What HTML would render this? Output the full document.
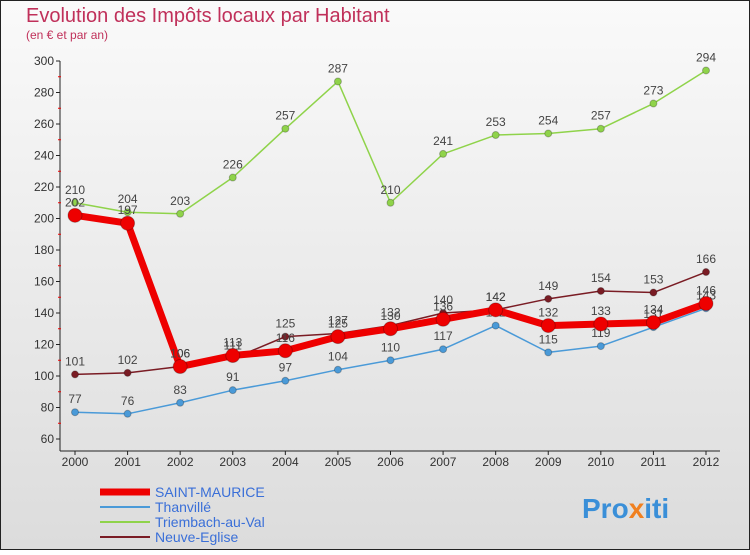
<!DOCTYPE html>
<html><head><meta charset="utf-8"><style>
body{margin:0;width:750px;height:550px;overflow:hidden;font-family:"Liberation Sans",sans-serif}
</style></head><body>
<svg id="c" width="750" height="550">
<defs><linearGradient id="bg" x1="0" y1="0" x2="0" y2="1"><stop offset="0" stop-color="#fafafa"/><stop offset="1" stop-color="#dcdcdc"/></linearGradient></defs>
<rect x="0.5" y="0.5" width="749" height="549" fill="url(#bg)" stroke="#222"/>
<text x="26" y="22" font-size="20" fill="#c0305a">Evolution des Impôts locaux par Habitant</text>
<text x="26" y="39" font-size="12" fill="#c0305a">(en € et par an)</text>
<g id="axes"></g><g id="series"></g><g id="legend"></g>
<text x="582" y="518" font-size="28" font-weight="bold" fill="#3a8fd8">Pro<tspan fill="#f08020">x</tspan>iti</text>
</svg>
<script>
const years=["2000","2001","2002","2003","2004","2005","2006","2007","2008","2009","2010","2011","2012"];
const yTicks=[60,80,100,120,140,160,180,200,220,240,260,280,300];
const stMaurice=[202,197,106,113,116,125,130,136,142,132,133,134,146];
const thanville=[77,76,83,91,97,104,110,117,132,115,119,131,143];
const triembach=[210,204,203,226,257,287,210,241,253,254,257,273,294];
const neuve=[101,102,106,111,125,127,132,140,142,149,154,153,166];
const NS="http://www.w3.org/2000/svg";
const X=i=>75+i*(706-75)/12;
const Y=v=>439-(v-60)*(378/240);
function mk(t,a,p){const e=document.createElementNS(NS,t);for(const k in a)e.setAttribute(k,a[k]);p.appendChild(e);return e;}
const ax=document.getElementById('axes');
let l=mk('line',{x1:60,y1:Y(300),x2:60,y2:451,stroke:'#222'},ax);

l=mk('line',{x1:60,y1:451,x2:720,y2:451,stroke:'#222'},ax);

yTicks.forEach((v,i)=>{
 mk('line',{x1:56,x2:60,y1:Y(v),y2:Y(v),stroke:'#222'},ax);
 if(i<yTicks.length-1)mk('line',{x1:58,x2:61,y1:Y(v+10),y2:Y(v+10),stroke:'#e00'},ax);
 const t=mk('text',{x:54,y:Y(v)+4,'font-size':12,fill:'#333','text-anchor':'end'},ax);t.textContent=v;
 
});
years.forEach((y,i)=>{
 mk('line',{x1:X(i),x2:X(i),y1:451,y2:455,stroke:'#222'},ax);
 const t=mk('text',{x:X(i),y:466,'font-size':12,fill:'#333','text-anchor':'middle'},ax);t.textContent=y;
 
});
const sg=document.getElementById('series');
function draw(vals,color,w,r,name){
 const g=mk('g',{},sg);
 const p=mk('polyline',{points:vals.map((v,i)=>X(i)+','+Y(v)).join(' '),fill:'none',stroke:color,'stroke-width':w,'stroke-linejoin':'round'},g);
 
 vals.forEach((v,i)=>{
  const c=mk('circle',{cx:X(i),cy:Y(v),r:r,fill:color,stroke:'rgba(0,0,0,0.25)'},g);
  
  const t=mk('text',{x:X(i),y:Y(v)-9,'font-size':12,fill:'#444','text-anchor':'middle'},g);t.textContent=v;
  
 });
}
draw(triembach,'#8fd34a',1.5,3.5,'triembach');
draw(thanville,'#4a9ad8',1.5,3.5,'thanville');
draw(neuve,'#7a1c24',1.5,3.5,'neuve-eglise');
draw(stMaurice,'#ee0000',7,7,'saint-maurice');
const lg=document.getElementById('legend');
[["SAINT-MAURICE",'#ee0000',7],["Thanvillé",'#4a9ad8',2],["Triembach-au-Val",'#8fd34a',2],["Neuve-Eglise",'#7a1c24',2]].forEach((d,i)=>{
 const y=492+i*15;
 const ln=mk('line',{x1:100,x2:150,y1:y,y2:y,stroke:d[1],'stroke-width':d[2]},lg);
 
 const t=mk('text',{x:155,y:y+5,'font-size':14,fill:'#3a6fd8'},lg);t.textContent=d[0];
 
});
</script>
</body></html>
